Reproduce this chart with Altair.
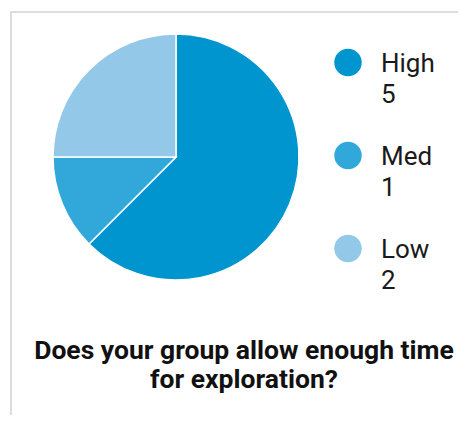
import altair as alt
import pandas as pd

categories = ["High", "Med", "Low"]
counts = [5, 1, 2]
colors = ["#0095cf", "#32a8da", "#94c8e8"]
title_lines = ["Does your group allow enough time", "for exploration?"]

df = pd.DataFrame({
    "cat": categories,
    "value": counts,
    "idx": list(range(len(categories))),
    "label": [f"{c}\n{v}" for c, v in zip(categories, counts)],
})

color_scale = alt.Scale(domain=categories, range=colors)
base = alt.Chart(df)

pie = base.mark_arc(outerRadius=123, stroke="white", strokeWidth=1.5).encode(
    theta=alt.Theta("value:Q", stack=True),
    color=alt.Color("cat:N", scale=color_scale, legend=None),
    order=alt.Order("idx:Q"),
    x=alt.value(168),
    y=alt.value(149),
)

leg_y = alt.Y("cat:N", scale=alt.Scale(domain=categories, range=[54.5, 240.5], padding=0), axis=None)

dots = base.mark_circle(size=755, opacity=1).encode(
    x=alt.value(340),
    y=leg_y,
    color=alt.Color("cat:N", scale=color_scale, legend=None),
)

labels = base.mark_text(
    align="left", baseline="alphabetic", fontSize=26, lineHeight=31,
    dy=9.5, lineBreak="\n", font="Roboto", color="#1a1a1a",
).encode(
    x=alt.value(373),
    y=leg_y,
    text="label:N",
)

tdf = pd.DataFrame({"t": ["\n".join(title_lines)]})
title = alt.Chart(tdf).mark_text(
    align="center", baseline="alphabetic", fontSize=26.5, fontWeight="bold",
    lineHeight=29, lineBreak="\n", font="Roboto", color="#111111",
).encode(
    x=alt.value(236),
    y=alt.value(351),
    text="t:N",
)

border_top = alt.Chart(tdf).mark_rule(color="#dddddd", strokeWidth=2).encode(
    x=alt.value(2), x2=alt.value(450), y=alt.value(4)
)
border_left = alt.Chart(tdf).mark_rule(color="#dddddd", strokeWidth=2).encode(
    x=alt.value(3), y=alt.value(3), y2=alt.value(407)
)

chart = alt.layer(border_top, border_left, pie, dots, labels, title).properties(
    width=450, height=407, autosize=alt.AutoSizeParams(type="none"), padding=0,
).configure(background="white", view=alt.ViewConfig(stroke=None))

chart.save("out.html", embed_options={"renderer": "svg", "actions": False})
